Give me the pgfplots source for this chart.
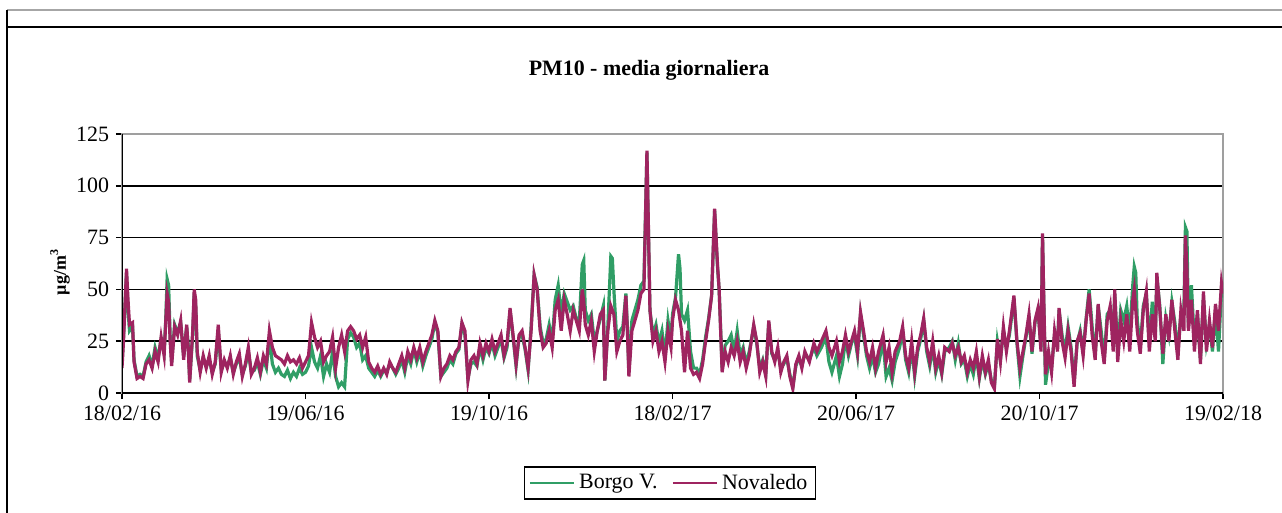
\documentclass[border=0pt]{standalone}
\usepackage{fontspec}
\setmainfont{Liberation Serif}
\usepackage{pgfplots}
\usepackage{pgfplotstable}
\pgfplotsset{compat=1.18}

\definecolor{borgo}{RGB}{48,158,102}
\definecolor{nova}{RGB}{158,36,96}
\newcommand\elevenpt{\fontsize{11}{13}\selectfont}

% day 0 = 18/02/16; daily means (µg/m3)
\pgfplotstableread{
day borgo nova
0 14 12
1 27 25
3 58 60
4 40 45
5 30 33
7 32 34
8 16 15
10 8 7
12 9 8
14 8 7
16 15 14
18 18 16
20 13 12
22 22 20
24 17 15
26 26 27
28 20 18
29 34 33
30 55 48
31 52 44
32 28 25
33 15 13
35 33 32
37 29 28
39 34 35
41 18 16
43 32 33
44 23 22
45 6 5
47 28 30
48 48 50
49 42 45
50 18 20
52 11 10
54 17 18
56 13 12
58 16 18
60 10 9
62 14 15
64 30 33
65 20 22
66 11 10
68 15 16
70 13 12
72 17 18
74 10 9
76 14 15
78 17 19
80 9 8
82 13 14
84 20 22
86 10 9
88 11 12
90 15 17
92 9 10
94 16 18
96 12 14
98 27 30
100 14 22
102 10 18
104 12 17
106 9 16
108 8 14
110 11 18
112 7 15
114 10 16
116 8 14
118 12 17
120 9 12
122 10 15
124 13 18
126 22 34
128 15 27
130 12 22
132 18 25
134 8 15
136 14 18
138 10 20
140 20 27
142 8 12
144 3 22
146 5 28
148 3 20
150 26 30
152 29 32
154 27 30
156 22 26
158 24 28
160 16 22
162 18 27
164 12 15
166 10 12
168 8 10
170 11 13
172 8 9
174 11 12
176 10 9
178 14 15
180 12 12
182 9 10
184 12 14
186 16 18
188 10 12
190 18 20
192 14 16
194 21 22
196 15 17
198 20 22
200 13 15
202 18 20
204 22 24
206 26 28
208 34 35
210 29 30
212 8 8
214 10 12
216 12 14
218 16 18
220 14 16
222 19 20
224 21 22
226 33 34
228 28 30
230 7 6
232 14 16
234 15 18
236 13 14
238 22 24
240 16 18
242 22 24
244 19 20
246 24 26
248 18 20
250 22 24
252 26 28
254 17 18
256 22 24
258 40 41
260 27 28
262 13 14
264 27 28
266 28 30
268 21 22
270 11 12
272 32 30
274 57 57
276 51 50
278 32 30
280 24 22
282 26 24
284 33 30
286 25 22
288 45 40
290 52 45
292 38 30
294 48 45
296 44 38
298 40 30
300 42 40
302 36 35
304 34 30
306 62 50
307 64 44
308 40 33
310 35 28
312 38 35
314 25 20
316 30 30
318 36 38
320 42 40
321 6 6
323 32 30
325 66 42
326 65 40
327 50 38
329 25 20
331 30 25
333 32 28
335 48 47
336 32 30
337 10 8
339 35 30
341 40 35
343 45 40
345 52 48
347 54 50
349 116 117
350 78 80
351 40 40
353 28 25
355 33 30
357 24 20
359 30 25
361 18 15
363 35 30
365 25 22
366 38 35
368 46 45
370 67 40
371 60 35
372 38 30
374 35 10
376 40 30
378 20 12
380 12 9
382 12 10
384 9 7
386 16 14
388 27 25
390 36 35
392 47 47
394 88 89
395 73 75
396 60 61
397 50 50
399 12 10
401 23 20
403 25 15
405 28 22
407 20 18
409 30 25
411 18 15
413 22 20
415 14 12
417 20 18
420 32 33
422 24 25
424 12 10
426 16 15
428 9 8
430 34 35
432 19 20
434 16 15
436 20 22
438 12 10
440 14 15
442 17 18
444 9 8
446 3 2
448 13 14
450 17 18
452 13 12
454 19 20
457 16 15
460 22 24
462 18 20
465 22 25
468 27 30
470 15 22
472 10 18
475 18 25
477 8 15
479 14 20
481 26 28
483 18 20
485 24 25
487 28 30
489 18 20
491 38 39
493 28 30
495 18 20
497 12 15
499 18 22
501 10 12
503 14 20
506 25 28
508 8 15
510 12 22
512 6 10
514 15 20
517 22 25
519 30 32
521 16 18
523 10 12
525 22 25
527 8 10
529 20 22
531 26 28
533 35 36
535 20 22
537 13 15
539 22 25
541 10 12
543 16 18
545 9 10
547 20 22
550 22 20
552 25 24
554 16 18
556 24 22
558 14 15
560 16 18
562 8 10
564 14 16
566 9 12
568 18 20
570 7 8
572 16 18
574 9 10
576 14 16
578 6 5
580 3 2
582 25 26
584 16 15
586 30 32
588 22 20
590 28 30
593 46 47
595 24 25
597 8 12
599 18 20
601 27 28
603 36 38
605 19 20
607 34 35
609 40 41
611 22 20
612 76 77
613 38 40
614 4 9
616 15 20
618 12 10
620 28 30
622 24 20
623 40 41
625 28 25
627 20 17
629 32 30
631 22 20
633 5 3
635 24 25
637 30 29
639 20 18
641 36 35
643 50 48
645 32 28
647 18 16
649 42 43
651 30 25
653 16 14
655 38 35
657 40 42
659 28 20
660 48 50
662 20 15
664 40 35
666 35 25
668 42 38
670 28 20
672 52 45
673 61 50
674 58 40
675 35 30
677 22 19
679 42 40
681 48 49
683 24 20
685 44 38
687 28 25
688 56 58
690 42 40
692 14 19
694 36 38
696 28 25
698 44 45
700 34 30
702 20 16
704 38 40
706 40 30
707 80 76
708 78 60
709 32 30
711 52 45
713 24 20
715 38 40
717 16 14
719 46 49
721 24 20
723 33 35
725 20 22
727 40 43
729 20 30
731 50 53
732 46 48
}\pmdata

\begin{document}
\begin{tikzpicture}
\useasboundingbox (-61bp,-60bp) rectangle (580bp,196.5bp);

% outer frame of the sheet
\draw[gray!70, line width=1bp] (-57.5bp,191.5bp) -- (580bp,191.5bp);
\draw[black, line width=1.3bp] (-57.5bp,183bp) -- (580bp,183bp);
\draw[black, line width=1.3bp] (-57.5bp,191.5bp) -- (-57.5bp,-60bp);

\begin{axis}[
    at={(0,0)}, anchor=south west,
    scale only axis,
    width=550.5bp,
    height=129.5bp,
    xmin=0, xmax=732,
    ymin=0, ymax=125,
    xtick={0,122,244,366,488,610,732},
    xticklabels={18/02/16,19/06/16,19/10/16,18/02/17,20/06/17,20/10/17,19/02/18},
    ytick={0,25,50,75,100,125},
    /pgf/number format/assume math mode=true,
    ymajorgrids,
    grid style={black, line width=0.9bp},
    axis line style={gray!75, line width=0.8bp},
    tick pos=left,
    tick align=outside,
    major tick length=3bp,
    tick style={black, line width=0.8bp},
    ticklabel style={font=\elevenpt},
    legend style={at={(0.4977,-0.3475)}, anchor=center, draw=black,
        line width=0.8bp, legend columns=2, font=\elevenpt,
        inner xsep=2bp, inner ysep=1.5bp,
        /tikz/every even column/.append style={column sep=5bp}},
    legend image code/.code={\draw[#1, line width=1.3bp] (0bp,0bp) -- (22bp,0bp);},
]
\addplot[borgo, line width=1.6bp] table[x=day, y=borgo] {\pmdata};
\addlegendentry{Borgo V.}
\addplot[nova, line width=1.6bp] table[x=day, y=nova] {\pmdata};
\addlegendentry{Novaledo}
\draw[black, line width=0.9bp] (rel axis cs:0,1) -- (rel axis cs:0,0) -- (rel axis cs:1,0);
\end{axis}

\node[font=\bfseries\fontsize{11}{13}\selectfont] at (263.5bp,161.5bp) {PM10 - media giornaliera};
\node[font=\bfseries\small, rotate=90] at (-31bp,60.5bp) {µg/m\textsuperscript{3}};
\end{tikzpicture}
\end{document}
